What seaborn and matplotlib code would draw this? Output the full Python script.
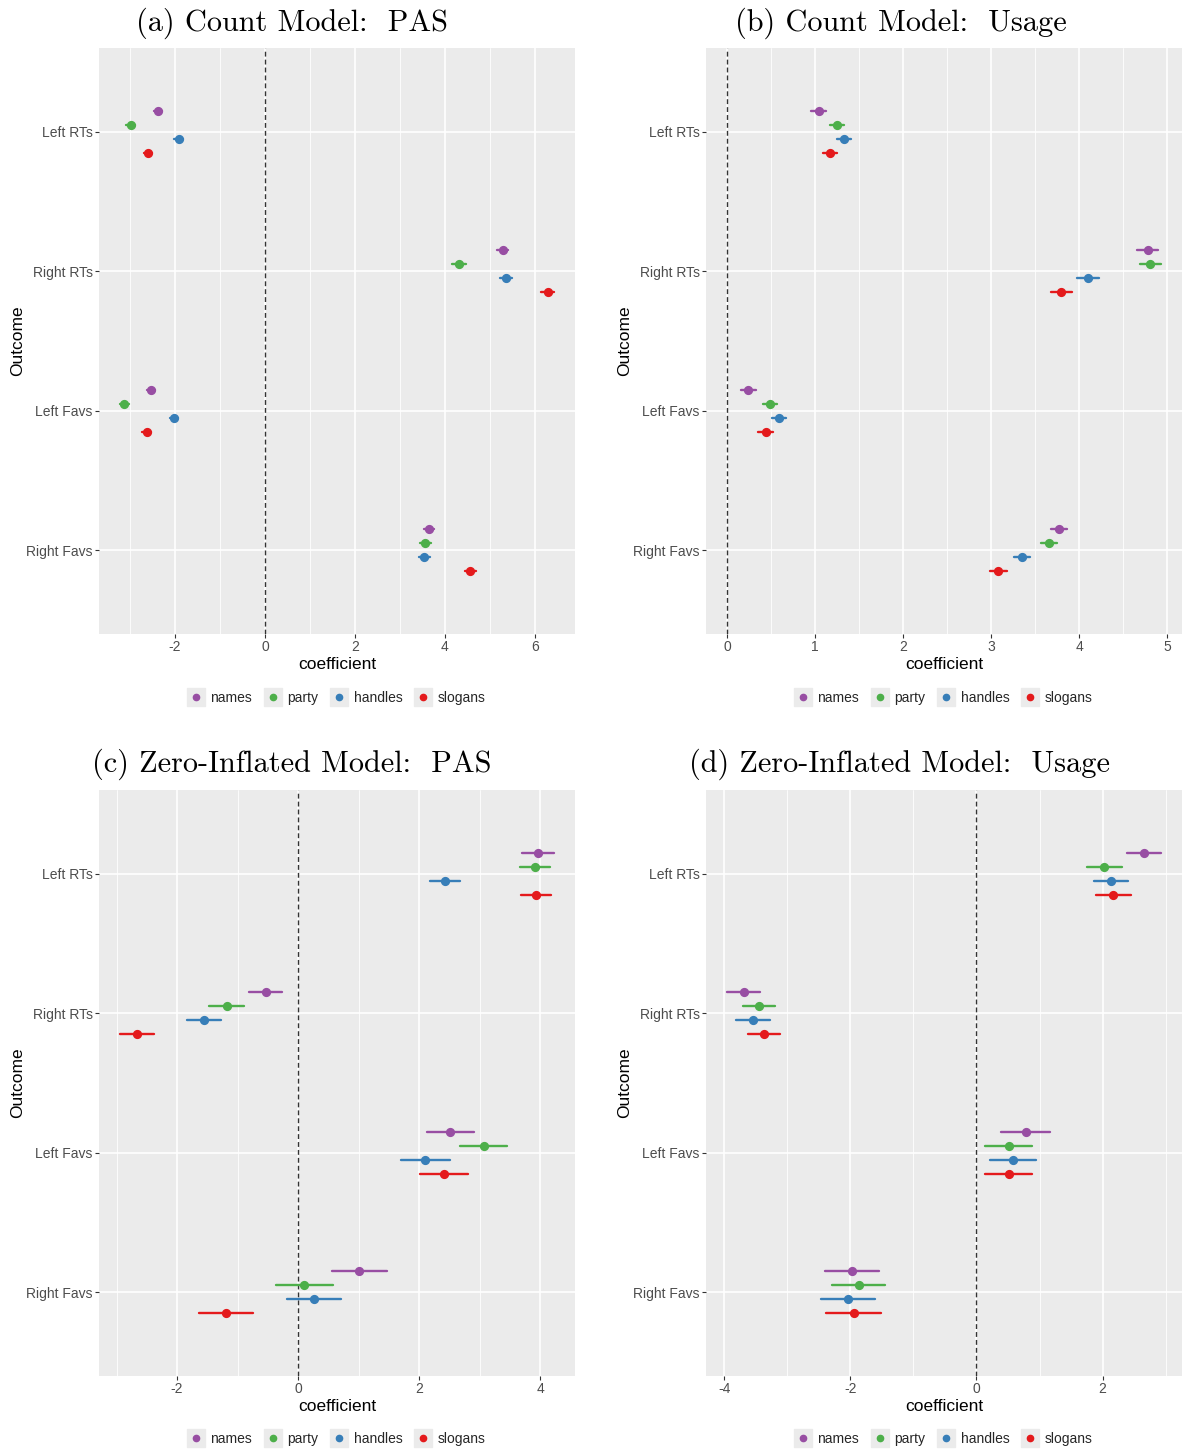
import numpy as np
import pandas as pd
import matplotlib
matplotlib.use("Agg")
import matplotlib.pyplot as plt
from matplotlib.lines import Line2D
from matplotlib.legend_handler import HandlerTuple
from matplotlib.ticker import FixedLocator
import seaborn as sns

# ---------------- data ----------------
outcomes = ["Left RTs", "Right RTs", "Left Favs", "Right Favs"]
groups = ["names", "party", "handles", "slogans"]
colors = ["#984EA3", "#4DAF4A", "#377EB8", "#E41A1C"]

# (a) Count Model: PAS  -- rows: names, party, handles, slogans
a_est = [[-2.38, 5.28, -2.53, 3.64],
         [-2.98, 4.31, -3.13, 3.56],
         [-1.92, 5.36, -2.03, 3.54],
         [-2.61, 6.28, -2.63, 4.56]]
a_half = [[0.09, 0.13, 0.09, 0.11],
          [0.10, 0.15, 0.10, 0.12],
          [0.10, 0.14, 0.09, 0.12],
          [0.09, 0.14, 0.10, 0.12]]

# (b) Count Model: Usage
b_est = [[1.04, 4.78, 0.24, 3.77],
         [1.25, 4.81, 0.49, 3.66],
         [1.33, 4.10, 0.59, 3.35],
         [1.17, 3.80, 0.44, 3.08]]
b_half = [[0.087, 0.12, 0.083, 0.093],
          [0.080, 0.12, 0.080, 0.090],
          [0.080, 0.125, 0.080, 0.095],
          [0.080, 0.12, 0.085, 0.097]]

# (c) Zero-Inflated Model: PAS
c_est = [[3.96, -0.54, 2.51, 1.01],
         [3.91, -1.18, 3.06, 0.10],
         [2.42, -1.55, 2.10, 0.26],
         [3.93, -2.67, 2.41, -1.19]]
c_half = [[0.26, 0.27, 0.39, 0.45],
          [0.25, 0.29, 0.39, 0.47],
          [0.25, 0.28, 0.40, 0.45],
          [0.25, 0.28, 0.40, 0.45]]

# (d) Zero-Inflated Model: Usage
d_est = [[2.66, -3.69, 0.78, -1.98],
         [2.03, -3.45, 0.51, -1.87],
         [2.14, -3.55, 0.58, -2.04],
         [2.17, -3.37, 0.51, -1.95]]
d_half = [[0.27, 0.26, 0.39, 0.43],
          [0.28, 0.25, 0.37, 0.42],
          [0.27, 0.27, 0.37, 0.43],
          [0.28, 0.25, 0.37, 0.43]]

titles = ["(a) Count Model:  PAS", "(b) Count Model:  Usage",
          "(c) Zero-Inflated Model:  PAS", "(d) Zero-Inflated Model:  Usage"]


def make_df(est, half):
    rows = []
    for gi, g in enumerate(groups):
        for oi, o in enumerate(outcomes):
            e, h = est[gi][oi], half[gi][oi]
            for v in (e - h, e, e + h):
                rows.append({"Outcome": o, "group": g, "coefficient": v})
    return pd.DataFrame(rows)


# ---------------- style ----------------
sns.set_theme(style="darkgrid", rc={
    "axes.facecolor": "#EBEBEB",
    "grid.color": "white",
    "axes.edgecolor": "#EBEBEB",
})
plt.rcParams["font.family"] = ["Liberation Sans", "DejaVu Sans"]
plt.rcParams["axes.unicode_minus"] = False

W, H = 1182, 1452
fig = plt.figure(figsize=(W / 100, H / 100), dpi=100)
fig.patch.set_facecolor("white")

panels = [
    dict(est=a_est, half=a_half, rect=(99, 48, 575, 634), xlim=(-3.69, 6.89),
         major=[-2, 0, 2, 4, 6], minor=[-3, -1, 1, 3, 5], title_xy=(292, 23), leg_y=698),
    dict(est=b_est, half=b_half, rect=(706, 48, 1182, 634), xlim=(-0.24, 5.17),
         major=[0, 1, 2, 3, 4, 5], minor=[0.5, 1.5, 2.5, 3.5, 4.5], title_xy=(901, 23), leg_y=698),
    dict(est=c_est, half=c_half, rect=(99, 790, 575, 1376), xlim=(-3.29, 4.57),
         major=[-2, 0, 2, 4], minor=[-3, -1, 1, 3], title_xy=(292, 764), leg_y=1439),
    dict(est=d_est, half=d_half, rect=(706, 790, 1182, 1376), xlim=(-4.29, 3.26),
         major=[-4, -2, 0, 2], minor=[-3, -1, 1, 3], title_xy=(900, 764), leg_y=1439),
]

palette = dict(zip(groups, colors))

for p, title in zip(panels, titles):
    l, t, r, b = p["rect"]
    ax = fig.add_axes([l / W, 1 - b / H, (r - l) / W, (b - t) / H])
    df = make_df(p["est"], p["half"])
    sns.pointplot(data=df, x="coefficient", y="Outcome", hue="group",
                  order=outcomes, hue_order=groups, palette=palette,
                  estimator="median", errorbar=lambda v: (v.min(), v.max()),
                  dodge=0.3, linestyle="none", markers="o", markersize=4.6,
                  err_kws={"linewidth": 1.7}, capsize=0, ax=ax, legend=False)
    ax.axvline(0, color="#333333", linestyle=(0, (3.5, 2.2)), linewidth=1.0, zorder=1.5)
    ax.set_xlim(*p["xlim"])
    ax.set_ylim(3.6, -0.6)
    ax.xaxis.set_major_locator(FixedLocator(p["major"]))
    ax.xaxis.set_minor_locator(FixedLocator(p["minor"]))
    ax.set_xticklabels([str(v) for v in p["major"]])
    ax.grid(which="major", color="white", linewidth=1.2)
    ax.grid(which="minor", axis="x", color="white", linewidth=0.6)
    ax.set_axisbelow(True)
    for s in ax.spines.values():
        s.set_visible(False)
    ax.tick_params(which="major", bottom=True, left=True, length=3, width=0.8,
                   color="#333333", labelsize=10, labelcolor="#4D4D4D", pad=1.5)
    ax.tick_params(which="minor", length=0)
    ax.set_xlabel("coefficient", fontsize=12.5, color="black", labelpad=2)
    ax.set_ylabel("Outcome", fontsize=12.5, color="black", labelpad=1)

    # title
    tx, ty = p["title_xy"]
    fig.text(tx / W, 1 - ty / H, title, family="cmr10", fontsize=21.8,
             ha="center", va="center", color="black")

    # legend
    handles = []
    for c in colors:
        bg = Line2D([], [], marker="s", markersize=12.5, linestyle="none",
                    markerfacecolor="#EBEBEB", markeredgecolor="#EBEBEB")
        dot = Line2D([], [], marker="o", markersize=4.5, linestyle="none",
                     markerfacecolor=c, markeredgecolor=c)
        handles.append((bg, dot))
    fig.legend(handles, groups, loc="center",
               bbox_to_anchor=((l + r) / 2 / W, 1 - p["leg_y"] / H),
               ncol=4, frameon=False, fontsize=10,
               handler_map={tuple: HandlerTuple(ndivide=1)},
               handlelength=1.1, handletextpad=0.5, columnspacing=0.95)

fig.savefig("out.png", dpi=100, facecolor="white")
